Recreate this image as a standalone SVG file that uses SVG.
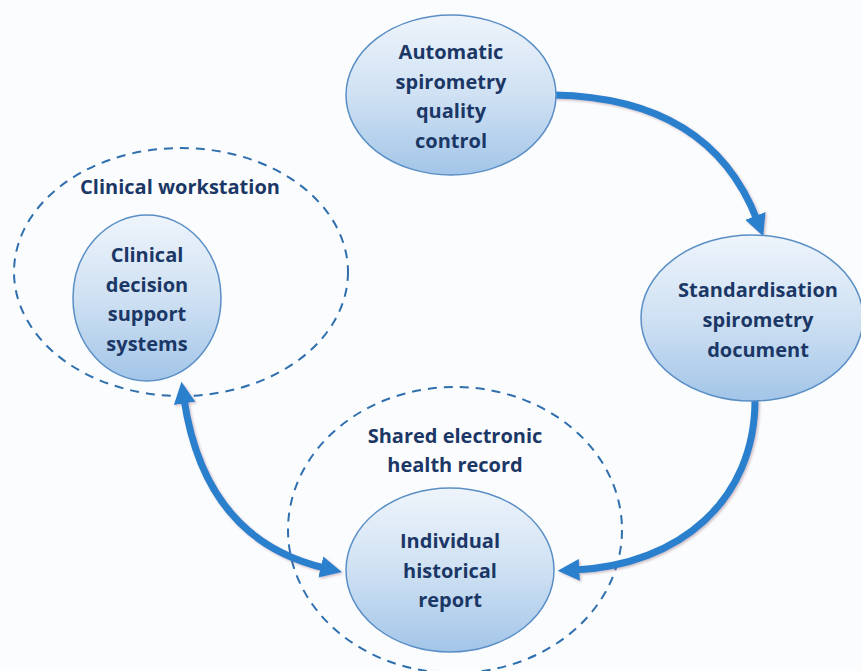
<svg xmlns="http://www.w3.org/2000/svg" width="861" height="671" viewBox="0 0 861 671">
<defs>
<linearGradient id="g" x1="0" y1="0" x2="0" y2="1">
<stop offset="0" stop-color="#eef4fb"/>
<stop offset="0.5" stop-color="#cfe1f3"/>
<stop offset="1" stop-color="#a3c5e8"/>
</linearGradient>
<marker id="ah" viewBox="0 0 10 10" refX="2" refY="5" markerWidth="3.1" markerHeight="3.1" orient="auto-start-reverse" markerUnits="strokeWidth">
<path d="M0,0 L10,5 L0,10 z" fill="#2a80cc"/>
</marker>
<filter id="sh" x="-10%" y="-10%" width="130%" height="130%">
<feDropShadow dx="1.5" dy="1.5" stdDeviation="1.2" flood-color="#7a5060" flood-opacity="0.35"/>
</filter>
</defs>
<style>
.node{fill:url(#g);stroke:#5a8fc6;stroke-width:1.5}
.zone{fill:none;stroke:#2f6fae;stroke-width:2;stroke-dasharray:9 7}
.lbl{font-family:"Open Sans","Noto Sans",sans-serif;font-weight:bold;font-size:20px;fill:#1b3766;text-anchor:middle}
.conn{fill:none;stroke:#2a80cc;stroke-width:7;filter:url(#sh)}
</style>
<rect width="861" height="671" fill="#fbfcfe"/>
<g id="zone-workstation">
<ellipse class="zone" cx="181" cy="272" rx="167" ry="124"/>
<text class="lbl" x="180" y="194">Clinical workstation</text>
</g>
<g id="zone-ehr">
<ellipse class="zone" cx="455" cy="530" rx="167" ry="143"/>
<text class="lbl" x="455" y="443">Shared electronic</text>
<text class="lbl" x="455" y="472">health record</text>
</g>
<g id="connectors">
<path class="conn" d="M554,95 Q710,98 757,220" marker-end="url(#ah)"/>
<path class="conn" d="M755,400 C755,500 680,565 575,570" marker-end="url(#ah)"/>
<path class="conn" d="M184,399 Q205,540 325,568" marker-start="url(#ah)" marker-end="url(#ah)"/>
</g>
<g id="node-quality">
<ellipse class="node" cx="451" cy="95" rx="105" ry="80"/>
<text class="lbl" x="451" y="59">Automatic</text>
<text class="lbl" x="451" y="89">spirometry</text>
<text class="lbl" x="451" y="118">quality</text>
<text class="lbl" x="451" y="148">control</text>
</g>
<g id="node-standard">
<ellipse class="node" cx="752" cy="318" rx="111" ry="83"/>
<text class="lbl" x="758" y="297">Standardisation</text>
<text class="lbl" x="758" y="327">spirometry</text>
<text class="lbl" x="758" y="357">document</text>
</g>
<g id="node-cdss">
<ellipse class="node" cx="147" cy="298" rx="74" ry="83"/>
<text class="lbl" x="147" y="262">Clinical</text>
<text class="lbl" x="147" y="292">decision</text>
<text class="lbl" x="147" y="321">support</text>
<text class="lbl" x="147" y="351">systems</text>
</g>
<g id="node-report">
<ellipse class="node" cx="450" cy="570" rx="104" ry="82"/>
<text class="lbl" x="450" y="548">Individual</text>
<text class="lbl" x="450" y="578">historical</text>
<text class="lbl" x="450" y="607">report</text>
</g>
</svg>
